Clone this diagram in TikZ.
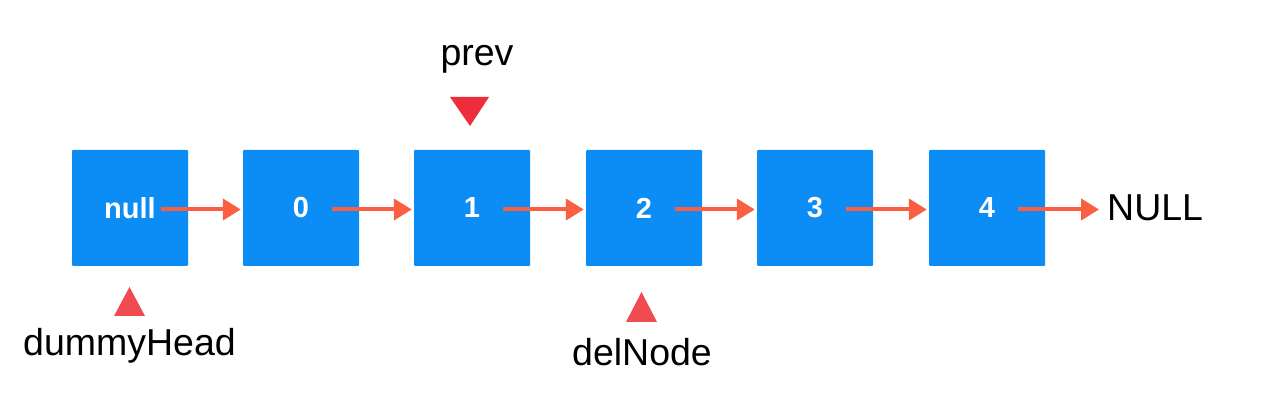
\documentclass[tikz,border=0pt]{standalone}
\usepackage{fontspec}
\setmainfont{Liberation Sans}
\usetikzlibrary{calc,arrows.meta}
\definecolor{boxblue}{RGB}{12,140,245}
\definecolor{arrowred}{RGB}{250,95,65}
\definecolor{tri}{RGB}{240,75,80}
\definecolor{tridark}{RGB}{238,45,60}
\tikzset{
  x=1pt,y=1pt,
  listbox/.style={fill=boxblue,draw=none,minimum width=116pt,minimum height=116pt,inner sep=0pt,
    text=white,font=\fontsize{29}{32}\selectfont\bfseries,rounded corners=1pt},
  link/.style={draw=arrowred,line width=4pt,shorten >=2pt,-{Triangle[length=18pt,width=21pt]}},
  lbl/.style={font=\fontsize{37.5}{40}\selectfont,inner sep=0pt,anchor=base,text=black},
}
\begin{document}
\begin{tikzpicture}
\useasboundingbox (0,0) rectangle (1269,401);
\fill[white] (0,0) rectangle (1269,401);
\foreach \i/\x/\t in {0/130/null,1/301/0,2/472/1,3/644/2,4/815/3,5/987/4}{
  \node[listbox] (b\i) at (\x,193) {\t};
}
\foreach \i/\j in {0/1,1/2,2/3,3/4,4/5}{
  \draw[link] ($(b\i.west)+(89,-1.5)$) -- ($(b\j.west)+(0,-1.5)$);
}
\node[lbl,anchor=base west] (nul) at (1107,180) {NULL};
\draw[link] ($(b5.west)+(89,-1.5)$) -- ($(nul.west |- b5.center)+(-6,-1.5)$);
% prev
\node[lbl] (prev) at (477,335) {prev};
\fill[tridark] (450,304) -- (489,304) -- (470,275) -- cycle;
% dummyHead
\fill[tri] (114,85) -- (145,85) -- (129.5,114) -- cycle;
\node[lbl] (dh) at (129.5,45) {dummyHead};
% delNode
\fill[tri] (626,79) -- (657,79) -- (641.5,109) -- cycle;
\node[lbl] (dn) at (642,35) {delNode};
\end{tikzpicture}
\end{document}
